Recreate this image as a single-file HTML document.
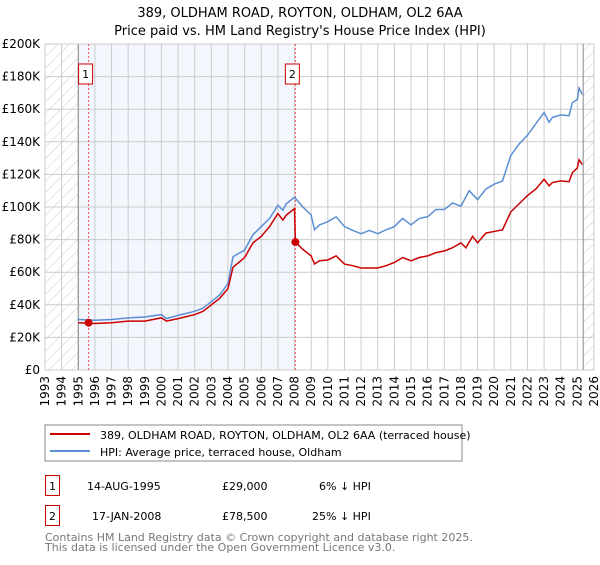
<!DOCTYPE html>
<html><head><meta charset="utf-8"><style>
body{margin:0;background:#fff;font-family:"Liberation Sans","DejaVu Sans",sans-serif;}
svg text{font-family:"DejaVu Sans","Liberation Sans",sans-serif;}
</style></head><body>
<svg id="c" width="600" height="560" xmlns="http://www.w3.org/2000/svg">
<defs><pattern id="h" width="8" height="8" patternUnits="userSpaceOnUse" patternTransform="rotate(45)"><line x1="0" y1="0" x2="0" y2="8" stroke="#ccc" stroke-width="1"/></pattern></defs>
<text x="300" y="17" text-anchor="middle" font-size="13">389, OLDHAM ROAD, ROYTON, OLDHAM, OL2 6AA</text>
<text x="300" y="35" text-anchor="middle" font-size="13">Price paid vs. HM Land Registry's House Price Index (HPI)</text>
<g id="plot"></g>
<rect x="45" y="425" width="417" height="36" fill="#fff" stroke="#888"/>
<line x1="50" y1="434" x2="90" y2="434" stroke="#cc0000" stroke-width="2"/>
<text x="100" y="439" font-size="11">389, OLDHAM ROAD, ROYTON, OLDHAM, OL2 6AA (terraced house)</text>
<line x1="50" y1="451" x2="90" y2="451" stroke="#5b8fd4" stroke-width="2"/>
<text x="100" y="456" font-size="11">HPI: Average price, terraced house, Oldham</text>
<g font-size="11">
<rect x="45.5" y="475.5" width="14" height="20" fill="none" stroke="#cc0000"/>
<text x="52.5" y="490" text-anchor="middle">1</text>
<text x="87" y="490">14-AUG-1995</text>
<text x="222" y="490">£29,000</text>
<text x="319" y="490">6% ↓ HPI</text>
<rect x="45.5" y="505.5" width="14" height="20" fill="none" stroke="#cc0000"/>
<text x="52.5" y="520" text-anchor="middle">2</text>
<text x="92" y="520">17-JAN-2008</text>
<text x="222" y="520">£78,500</text>
<text x="312" y="520">25% ↓ HPI</text>
</g>
<text x="45" y="541" font-size="11" fill="#777">Contains HM Land Registry data © Crown copyright and database right 2025.</text>
<text x="45" y="551" font-size="11" fill="#777">This data is licensed under the Open Government Licence v3.0.</text>
</svg>
<script>
const yearTicks=[1993,1994,1995,1996,1997,1998,1999,2000,2001,2002,2003,2004,2005,2006,2007,2008,2009,2010,2011,2012,2013,2014,2015,2016,2017,2018,2019,2020,2021,2022,2023,2024,2025,2026];
const priceTicks=[0,20,40,60,80,100,120,140,160,180,200];
const hpiYears=[1995,1996,1997,1998,1999,2000,2000.3,2001,2002,2002.5,2003,2003.5,2004,2004.3,2005,2005.5,2006,2006.5,2007,2007.3,2007.5,2008,2008.5,2009,2009.2,2009.5,2010,2010.5,2011,2011.5,2012,2012.5,2013,2013.5,2014,2014.5,2015,2015.5,2016,2016.5,2017,2017.5,2018,2018.5,2019,2019.5,2020,2020.5,2021,2021.5,2022,2022.5,2023,2023.3,2023.5,2024,2024.5,2024.7,2025,2025.1,2025.3];
const hpiValues=[31,30.5,31,32,32.5,34,31.5,33.5,36,38,42,46,53,69.5,73.6,83,88,93,101,98,102,106,100,95,86,89,91,94,88,85.6,83.6,85.6,83.6,86,88,93,89,93,94,98.5,98.5,102.5,100.5,110,104.5,111,114,116,131.6,138.7,144,151,158,152,155,156.5,156,164,166,173,169];
const propYears=[1995,1996,1997,1998,1999,2000,2000.3,2001,2002,2002.5,2003,2003.5,2004,2004.3,2005,2005.5,2006,2006.5,2007,2007.3,2007.5,2008,2008.05,2008.5,2009,2009.2,2009.5,2010,2010.5,2011,2011.5,2012,2013,2013.5,2014,2014.5,2015,2015.5,2016,2016.5,2017,2017.5,2018,2018.3,2018.7,2019,2019.5,2020,2020.5,2021,2021.5,2022,2022.5,2023,2023.3,2023.5,2024,2024.5,2024.7,2025,2025.1,2025.3];
const propValues=[29,28.5,29,30,30,32,30,31.5,34,36,40,44,50,63,69,78,82,88,96,92,95,99,78.5,74,70,65,67,67.5,70,65,64,62.6,62.6,64,66,69,67,69,70,72,73,75,78,75,82,78,84,85,86,97,102,107,111,117,113,115,116,115.5,121,124,129,126];
const saleYears=[1995.62,2008.05];
const saleValues=[29,78.5];
const saleLabels=["1","2"];

const L=45,R=594,T=44,B=370;
const x=y=>L+(y-1993)*(R-L)/33;
const yv=v=>B-v*(B-T)/200;
const NS="http://www.w3.org/2000/svg";
const g=document.getElementById('plot');
function mk(t,a){const e=document.createElementNS(NS,t);for(const k in a)e.setAttribute(k,a[k]);g.appendChild(e);return e;}
let e;
e=mk('rect',{x:x(1995),y:T,width:x(2008.05)-x(1995),height:B-T,fill:'#f3f6fd'});


yearTicks.forEach(yr=>{e=mk('line',{x1:x(yr),x2:x(yr),y1:T,y2:B,stroke:'#ccc'});


e=mk('text',{transform:`translate(${x(yr)+4},376) rotate(-90)`,'text-anchor':'end','font-size':12});e.textContent=yr;

});
priceTicks.forEach(v=>{e=mk('line',{x1:L,x2:R,y1:yv(v),y2:yv(v),stroke:'#ccc'});


e=mk('text',{x:40,y:yv(v)+4,'text-anchor':'end','font-size':12});e.textContent=v===0?'£0':'£'+v+'K';

});
e=mk('rect',{x:L,y:T,width:x(1995)-L,height:B-T,fill:'url(#h)'});


e=mk('rect',{x:x(2025.35),y:T,width:R-x(2025.35),height:B-T,fill:'url(#h)'});


e=mk('line',{x1:x(1995),x2:x(1995),y1:T,y2:B,stroke:'#888'});


e=mk('line',{x1:x(2025.35),x2:x(2025.35),y1:T,y2:B,stroke:'#888'});


saleYears.forEach((s,i)=>{e=mk('line',{x1:x(s),x2:x(s),y1:T,y2:B,stroke:'#e55','stroke-dasharray':'2,2'});


e=mk('rect',{x:x(s)-10,y:64,width:14,height:20,fill:'#fff',stroke:'#cc0000'});


e=mk('text',{x:x(s)-3,y:78,'text-anchor':'middle','font-size':11});e.textContent=saleLabels[i];

});
e=mk('polyline',{points:hpiYears.map((t,i)=>x(t)+','+yv(hpiValues[i])).join(' '),fill:'none',stroke:'#5b8fd4','stroke-width':1.5});


e=mk('polyline',{points:propYears.map((t,i)=>x(t)+','+yv(propValues[i])).join(' '),fill:'none',stroke:'#cc0000','stroke-width':1.5});


saleYears.forEach((s,i)=>{e=mk('circle',{cx:x(s),cy:yv(saleValues[i]),r:4,fill:'#cc0000'});

});
</script>
</body></html>
